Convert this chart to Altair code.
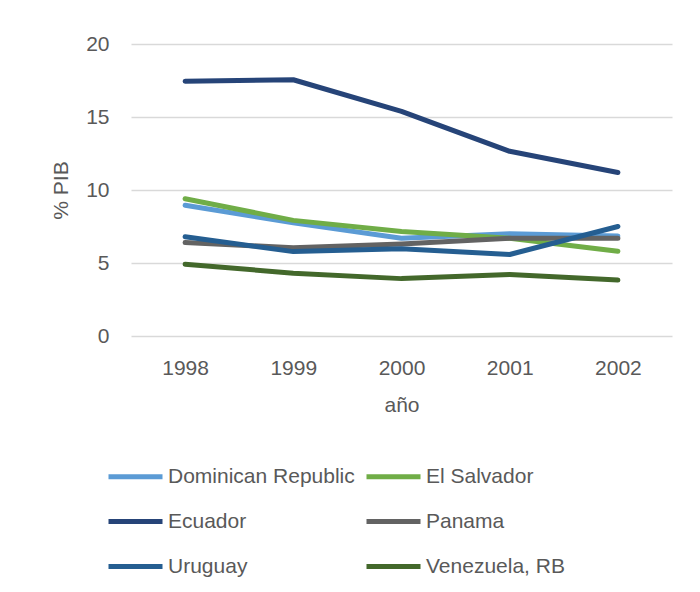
import altair as alt
import pandas as pd

years = ["1998", "1999", "2000", "2001", "2002"]
countries = ["Dominican Republic", "El Salvador", "Ecuador", "Panama", "Uruguay", "Venezuela, RB"]
colors = ["#5B9BD5", "#70AD47", "#264478", "#636363", "#255E91", "#43682B"]

dominican = [8.95, 7.75, 6.7, 7.0, 6.85]
el_salvador = [9.4, 7.92, 7.15, 6.7, 5.8]
ecuador = [17.45, 17.55, 15.38, 12.65, 11.2]
panama = [6.4, 6.05, 6.3, 6.7, 6.7]
uruguay = [6.8, 5.78, 5.98, 5.58, 7.5]
venezuela = [4.92, 4.3, 3.93, 4.22, 3.83]

series = [dominican, el_salvador, ecuador, panama, uruguay, venezuela]
rows = []
for i, (c, vals) in enumerate(zip(countries, series)):
    for y, v in zip(years, vals):
        rows.append({"country": c, "year": y, "value": v, "order": i})
df = pd.DataFrame(rows)

FONT = "Liberation Sans"
TXT = "#595959"
FS = 21

chart = alt.Chart(df).mark_line(strokeWidth=5, strokeCap="round", strokeJoin="round").encode(
    x=alt.X("year:O", scale=alt.Scale(type="point", padding=0.5),
            axis=alt.Axis(title="año", labelAngle=0, ticks=False, domain=False,
                          labelPadding=21, titlePadding=16)),
    y=alt.Y("value:Q", scale=alt.Scale(domain=[0, 20], nice=False),
            axis=alt.Axis(title="% PIB", values=[0, 5, 10, 15, 20], ticks=False, domain=False,
                          labelPadding=22, titlePadding=14, grid=True)),
    color=alt.Color("country:N", scale=alt.Scale(domain=countries, range=colors),
                    legend=alt.Legend(title=None, orient="none", legendX=-8, legendY=420,
                                      columns=2, direction="horizontal",
                                      symbolType="M-2.7,0L2.7,0", symbolSize=400,
                                      symbolStrokeWidth=5, labelOffset=20, columnPadding=1,
                                      rowPadding=22, labelLimit=400)),
    order=alt.Order("order:Q"),
    detail="country:N",
).properties(
    width=541, height=292,
    autosize=alt.AutoSizeParams(type="none"),
    padding={"left": 123, "top": 36, "right": 20, "bottom": 248},
).configure_view(stroke=None).configure_axis(
    labelFont=FONT, titleFont=FONT, labelFontSize=FS, titleFontSize=FS,
    labelColor=TXT, titleColor=TXT, titleFontWeight="normal",
    gridColor="#D9D9D9", gridWidth=1.5,
).configure_legend(labelFont=FONT, labelFontSize=FS, labelColor=TXT)

chart.save("out.html", embed_options={"renderer": "svg", "actions": False})
